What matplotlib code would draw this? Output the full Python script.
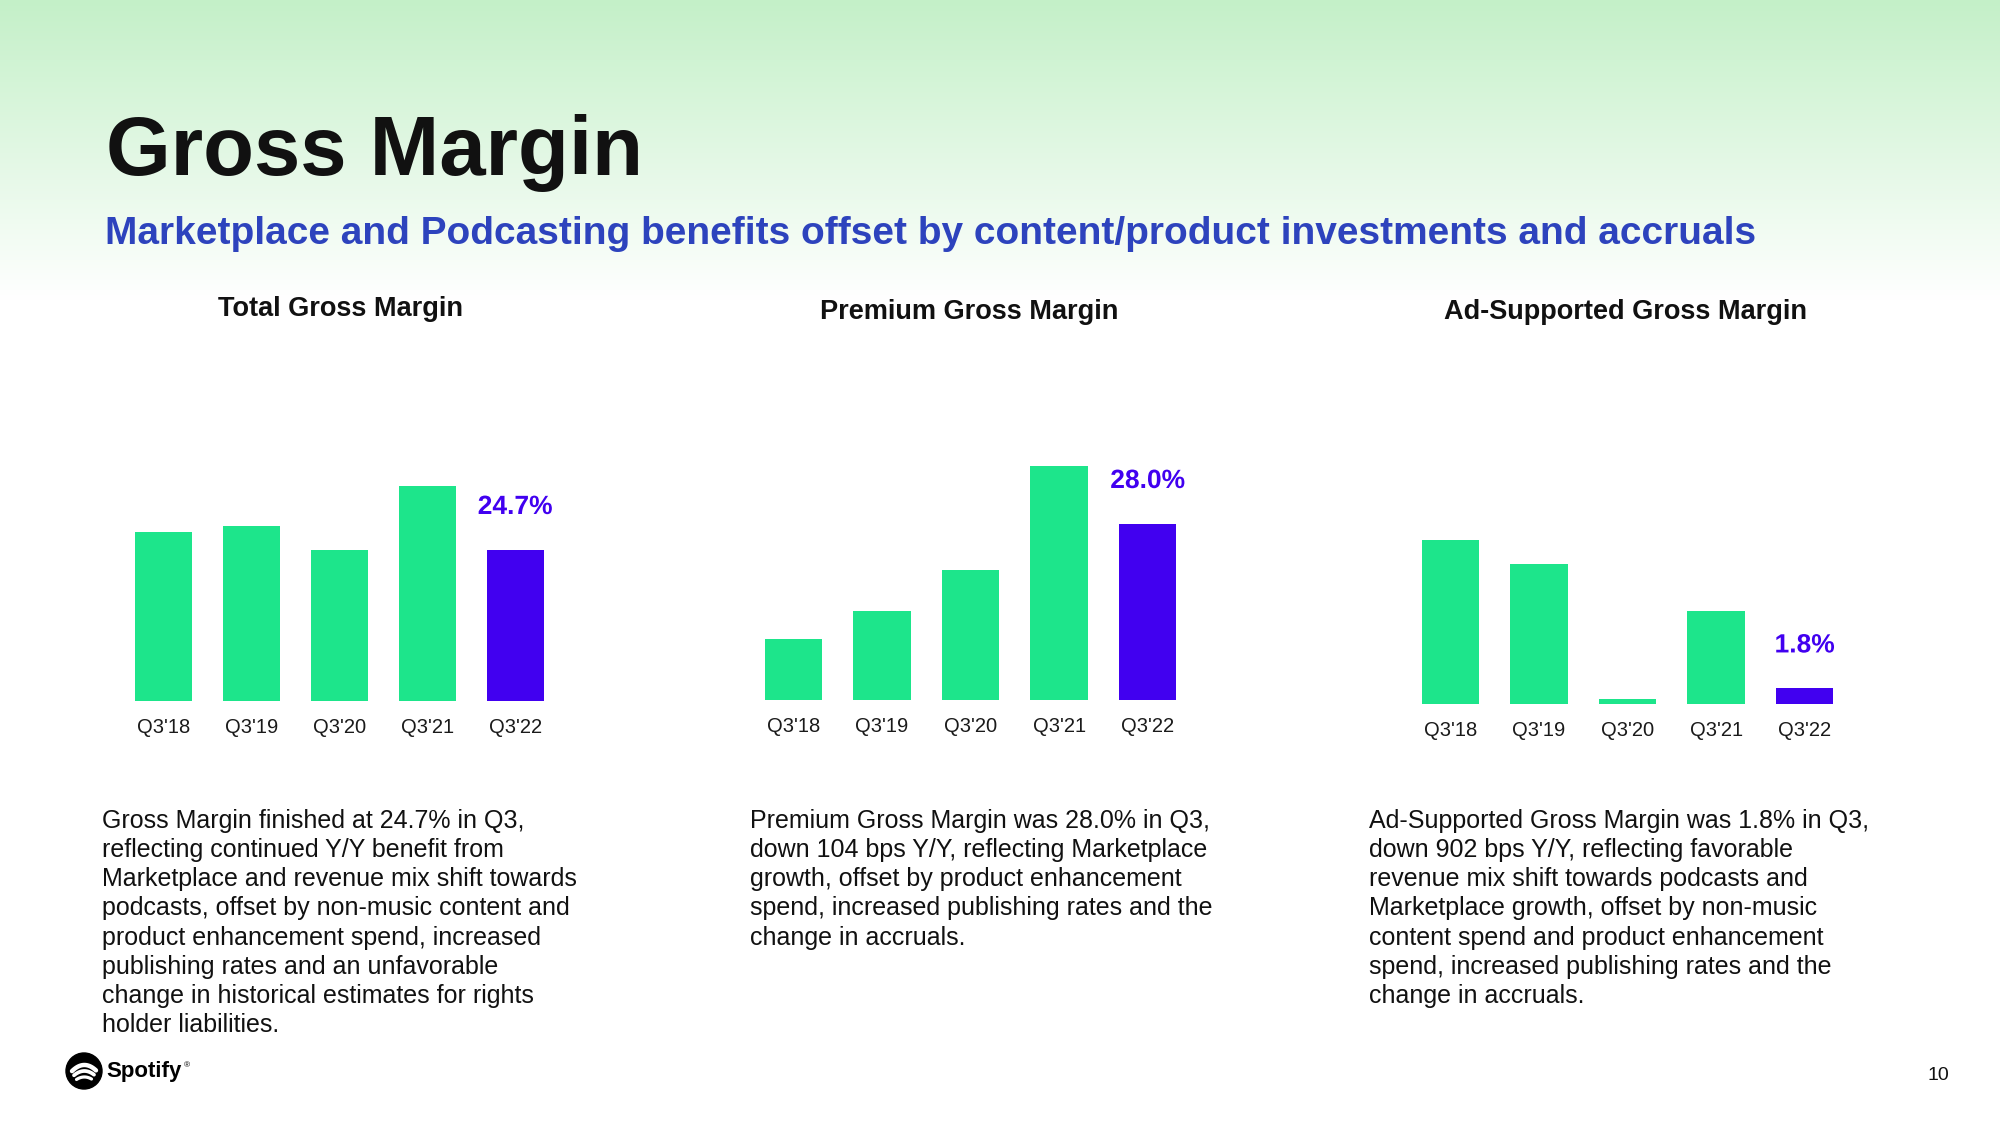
import numpy as np
import matplotlib
matplotlib.use("Agg")
import matplotlib.pyplot as plt
import matplotlib.patheffects as pe

plt.rcParams['font.family'] = ['Liberation Sans', 'DejaVu Sans']

# ---------------- data ----------------
quarters = ["Q3'18", "Q3'19", "Q3'20", "Q3'21", "Q3'22"]

total_gm = [25.3, 25.5, 24.7, 26.8, 24.7]
premium_gm = [26.0, 26.5, 27.2, 29.0, 28.0]
ad_gm = [19.0, 16.3, 0.6, 10.8, 1.8]

panel_titles = ["Total Gross Margin", "Premium Gross Margin", "Ad-Supported Gross Margin"]
callouts = ["24.7%", "28.0%", "1.8%"]

notes = [
    "Gross Margin finished at 24.7% in Q3,\nreflecting continued Y/Y benefit from\n"
    "Marketplace and revenue mix shift towards\npodcasts, offset by non-music content and\n"
    "product enhancement spend, increased\npublishing rates and an unfavorable\n"
    "change in historical estimates for rights\nholder liabilities.",
    "Premium Gross Margin was 28.0% in Q3,\ndown 104 bps Y/Y, reflecting Marketplace\n"
    "growth, offset by product enhancement\nspend, increased publishing rates and the\n"
    "change in accruals.",
    "Ad-Supported Gross Margin was 1.8% in Q3,\ndown 902 bps Y/Y, reflecting favorable\n"
    "revenue mix shift towards podcasts and\nMarketplace growth, offset by non-music\n"
    "content spend and product enhancement\nspend, increased publishing rates and the\n"
    "change in accruals.",
]

GREEN = '#1de58b'
PURPLE = '#4100f0'
BLUE = '#2d43bd'

W, H = 2000, 1125
fig = plt.figure(figsize=(20, 11.25), dpi=100)

# background layer in pixel coords
bg = fig.add_axes([0, 0, 1, 1])
bg.set_xlim(0, W)
bg.set_ylim(H, 0)
bg.axis('off')

ys = np.arange(H)
t = np.clip(ys / 300.0, 0, 1)[:, None]
top = np.array([196, 240, 200]) / 255.0
grad = top * (1 - t) + np.ones(3) * t
bg.imshow(grad[:, None, :], extent=[0, W, H, 0], aspect='auto', zorder=0)

bg.text(106, 175, "Gross Margin", fontsize=60, fontweight='bold', color='#111111', va='baseline')
bg.text(105, 244, "Marketplace and Podcasting benefits offset by content/product investments and accruals",
        fontsize=28, fontweight='bold', color=BLUE, va='baseline')

# panels: (left px, right px, top px, bottom px, ymin, ymax, data)
panels = [
    (120, 559, 400, 701, 19.75, 29.62, total_gm),
    (749, 1192, 400, 700, 24.95, 30.15, premium_gm),
    (1406, 1849, 400, 704, 0.0, 35.3, ad_gm),
]
title_pos = [(340, 309), (969, 312), (1625, 312)]
note_x = [102, 750, 1369]

for i, (l, r, tp, bt, y0, y1, vals) in enumerate(panels):
    ax = fig.add_axes([l / W, 1 - bt / H, (r - l) / W, (bt - tp) / H])
    ax.patch.set_alpha(0)
    colors = [GREEN] * (len(vals) - 1) + [PURPLE]
    ax.bar(range(len(vals)), vals, width=0.65, color=colors)
    ax.set_xlim(-0.5, len(vals) - 0.5)
    ax.set_ylim(y0, y1)
    ax.set_xticks(range(len(vals)), quarters)
    ax.tick_params(axis='x', length=0, pad=12.5, labelsize=14.5, labelcolor='#1a1a1a')
    ax.set_yticks([])
    for s in ax.spines.values():
        s.set_visible(False)
    ax.annotate(callouts[i], (len(vals) - 1, vals[-1]), xytext=(0, 31), textcoords='offset points',
                ha='center', va='center', fontsize=19, fontweight='bold', color=PURPLE,
                path_effects=[pe.withStroke(linewidth=3, foreground='white')])

    bg.text(title_pos[i][0], title_pos[i][1], panel_titles[i], fontsize=19.5, fontweight='bold',
            ha='center', va='center', color='#111111')
    bg.text(note_x[i], 809, notes[i], fontsize=18, va='top', ha='left', color='#111111',
            linespacing=1.27)

# spotify logo
cx, cy, rad = 84, 1071, 18
bg.add_patch(plt.Circle((cx, cy), rad, color='black', zorder=3))
for dy, half, lw in [(-6, 12, 3.2), (0, 10, 2.7), (6, 7.5, 2.3)]:
    xs = np.linspace(-half, half, 30)
    yy = cy + dy + 0.04 * xs ** 2 - 0.1 * xs * 0.3
    bg.plot(cx + xs, yy, color='white', lw=lw, solid_capstyle='round', zorder=4)
bg.text(106, 1071, "Spotify", fontsize=16, fontweight='bold', va='center', ha='left', color='black')
bg.text(184, 1066, "®", fontsize=6, va='center', ha='left', color='black')

bg.text(1938, 1075, "10", fontsize=14, ha='center', va='center', color='#111111')

fig.savefig("out.png", dpi=100)
